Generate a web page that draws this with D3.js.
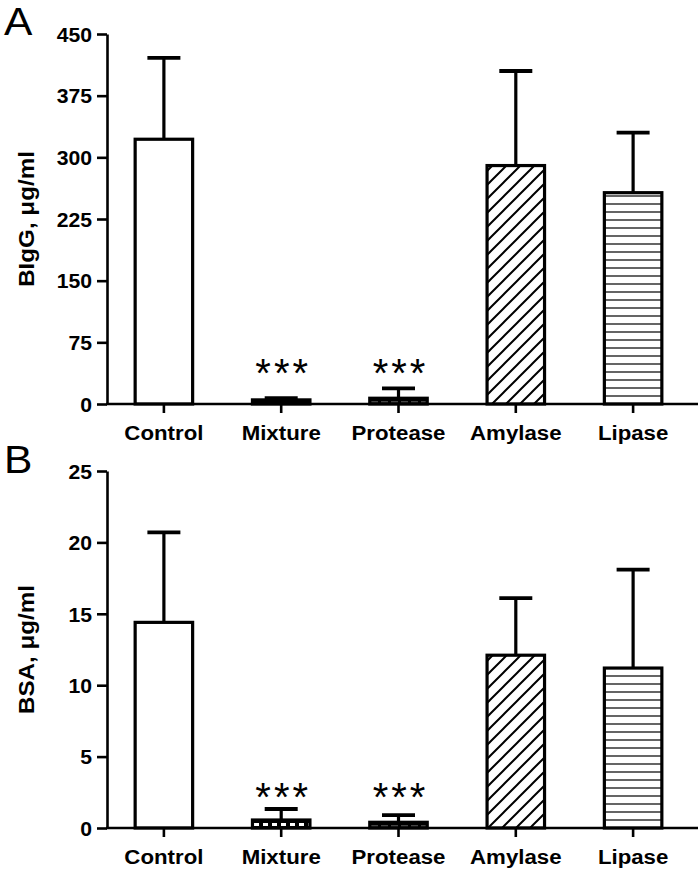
<!DOCTYPE html>
<html>
<head>
<meta charset="utf-8">
<script src="https://cdn.jsdelivr.net/npm/d3@7"></script>
<style>
  body { margin: 0; background: #fff; }
  text { font-family: "Liberation Sans", Arial, sans-serif; }
</style>
</head>
<body>
<script>
const categories = ["Control", "Mixture", "Protease", "Amylase", "Lipase"];
const fills = ["white", "url(#dash)", "url(#grey)", "url(#hatch)", "url(#lines)"];
const stars = ["", "***", "***", "", ""];

// panel A
const iggMean = [322, 5, 7, 290, 257];
const iggUpper = [421, 7, 19, 405, 330];
const iggTicks = [0, 75, 150, 225, 300, 375, 450];

// panel B
const bsaMean = [14.4, 0.56, 0.4, 12.1, 11.2];
const bsaUpper = [20.7, 1.33, 0.9, 16.1, 18.1];
const bsaTicks = [0, 5, 10, 15, 20, 25];

const width = 700, height = 881;
const stretch = "scale(1.06,1)";

const svg = d3.select("body").append("svg")
  .attr("width", width)
  .attr("height", height);

const defs = svg.append("defs");

defs.append("pattern")
  .attr("id", "hatch")
  .attr("patternUnits", "userSpaceOnUse")
  .attr("width", 14).attr("height", 14)
  .call(p => {
    p.append("rect").attr("width", 14).attr("height", 14).attr("fill", "white");
    p.append("path")
      .attr("d", "M-2,16 L16,-2 M-9,9 L9,-9 M5,23 L23,5")
      .attr("stroke", "black").attr("stroke-width", 2);
  });

defs.append("pattern")
  .attr("id", "lines")
  .attr("patternUnits", "userSpaceOnUse")
  .attr("width", 10).attr("height", 8)
  .call(p => {
    p.append("rect").attr("width", 10).attr("height", 8).attr("fill", "white");
    p.append("line").attr("x1", 0).attr("x2", 10).attr("y1", 4).attr("y2", 4)
      .attr("stroke", "#222").attr("stroke-width", 1.4);
  });

defs.append("pattern")
  .attr("id", "dash")
  .attr("patternUnits", "userSpaceOnUse")
  .attr("width", 9).attr("height", 6)
  .call(p => {
    p.append("rect").attr("width", 9).attr("height", 6).attr("fill", "black");
    p.append("rect").attr("x", 2).attr("y", 1).attr("width", 5).attr("height", 3).attr("fill", "white");
  });

defs.append("pattern")
  .attr("id", "grey")
  .attr("patternUnits", "userSpaceOnUse")
  .attr("width", 10).attr("height", 4)
  .call(p => {
    p.append("rect").attr("width", 10).attr("height", 4).attr("fill", "black");
    p.append("line").attr("x1", 1).attr("x2", 8).attr("y1", 2).attr("y2", 2)
      .attr("stroke", "#888").attr("stroke-width", 1);
  });

const x = d3.scaleBand()
  .domain(categories)
  .range([107, 690])
  .paddingInner(0.51)
  .paddingOuter(0.24);

const drawPanel = (letter, letterY, top, bottom, means, uppers, ticks, title) => {
  const y = d3.scaleLinear()
    .domain([0, d3.max(ticks)])
    .range([bottom, top]);

  const g = svg.append("g");

  g.append("text")
    .attr("transform", `translate(4,${letterY}) scale(1.12,1)`)
    .attr("font-size", 38)
    .text(letter);

  // error bars (upper only)
  g.selectAll(".err")
    .data(categories)
    .join("g")
    .each(function(c, i) {
      const cx = x(c) + x.bandwidth() / 2;
      const el = d3.select(this);
      el.append("line")
        .attr("x1", cx).attr("x2", cx)
        .attr("y1", y(means[i])).attr("y2", y(uppers[i]))
        .attr("stroke", "black").attr("stroke-width", 3.2);
      el.append("line")
        .attr("x1", cx - 16.5).attr("x2", cx + 16.5)
        .attr("y1", y(uppers[i])).attr("y2", y(uppers[i]))
        .attr("stroke", "black").attr("stroke-width", 3.8);
    });

  g.selectAll(".bar")
    .data(categories)
    .join("rect")
    .attr("x", c => x(c))
    .attr("width", x.bandwidth())
    .attr("y", (c, i) => y(means[i]))
    .attr("height", (c, i) => y(0) - y(means[i]))
    .attr("fill", (c, i) => fills[i])
    .attr("stroke", "black")
    .attr("stroke-width", 3.2);

  // significance stars
  g.selectAll(".star")
    .data(categories)
    .join("text")
    .attr("x", c => x(c) + x.bandwidth() / 2 + 2)
    .attr("y", bottom - 17)
    .attr("text-anchor", "middle")
    .attr("font-family", "DejaVu Sans")
    .attr("font-size", 40)
    .attr("letter-spacing", 3)
    .text((c, i) => stars[i]);

  const yAxis = g.append("g")
    .attr("transform", "translate(107,0)")
    .call(d3.axisLeft(y).tickValues(ticks).tickSize(10).tickPadding(4).tickSizeOuter(0));
  yAxis.select(".domain").attr("stroke-width", 2.6);
  yAxis.selectAll(".tick line").attr("stroke-width", 2.6);
  yAxis.selectAll(".tick text")
    .attr("transform", stretch)
    .attr("font-size", 20)
    .attr("font-weight", "bold")
    .attr("fill", "black")
    .attr("dy", "0.36em");

  const xAxis = g.append("g")
    .attr("transform", `translate(0,${bottom})`)
    .call(d3.axisBottom(x).tickSize(9).tickPadding(12).tickSizeOuter(0));
  xAxis.select(".domain").remove();
  xAxis.append("line")
    .attr("x1", 106).attr("x2", 698)
    .attr("stroke", "black").attr("stroke-width", 2.6);
  xAxis.selectAll(".tick line").attr("stroke-width", 2.6);
  xAxis.selectAll(".tick text")
    .attr("transform", stretch)
    .attr("font-size", 21)
    .attr("font-weight", "bold")
    .attr("fill", "black");

  g.append("text")
    .attr("transform", `translate(34,${(top + bottom) / 2}) rotate(-90) scale(1.1,1)`)
    .attr("text-anchor", "middle")
    .attr("font-size", 22)
    .attr("font-weight", "bold")
    .text(title);
};

drawPanel("A", 35, 34, 404, iggMean, iggUpper, iggTicks, "BIgG, μg/ml");
drawPanel("B", 473, 471, 828, bsaMean, bsaUpper, bsaTicks, "BSA, μg/ml");
</script>
</body>
</html>
